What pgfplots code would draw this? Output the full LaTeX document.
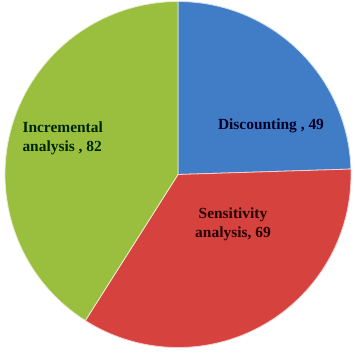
\documentclass[border=0pt]{standalone}
\usepackage{pgfplots}
\pgfplotsset{compat=1.18}
\usepackage{pgfplotstable}
\usepackage{fontspec}
\setmainfont{Liberation Serif}

\definecolor{pieblue}{RGB}{64,125,198}
\definecolor{piered}{RGB}{214,66,62}
\definecolor{piegreen}{RGB}{154,190,62}

\pgfplotstableread{
label value
Discounting 49
Sensitivity 69
Incremental 82
}\piedata

\begin{document}
\begin{tikzpicture}
\pgfplotstablegetelem{0}{value}\of\piedata \edef\va{\pgfplotsretval}
\pgfplotstablegetelem{1}{value}\of\piedata \edef\vb{\pgfplotsretval}
\pgfplotstablegetelem{2}{value}\of\piedata \edef\vc{\pgfplotsretval}
\pgfmathsetmacro\total{\va+\vb+\vc}
\pgfmathsetmacro\aA{90}
\pgfmathsetmacro\aB{\aA-\va/\total*360}
\pgfmathsetmacro\aC{\aB-\vb/\total*360}
\pgfmathsetmacro\aD{\aC-\vc/\total*360}
\begin{axis}[x=1bp,y=1bp,xmin=0,xmax=358,ymin=0,ymax=358,hide axis,clip=false]
\coordinate (BL) at (axis cs:0,0);
\coordinate (TR) at (axis cs:358,358);
\filldraw[fill=pieblue, draw=white!75!pieblue, line width=0.8pt]
  (axis cs:178,183.5) -- ++(\aA:173bp) arc[start angle=\aA, end angle=\aB, radius=173bp] -- cycle;
\filldraw[fill=piered, draw=white!75!piered, line width=0.8pt]
  (axis cs:178,183.5) -- ++(\aB:173bp) arc[start angle=\aB, end angle=\aC, radius=173bp] -- cycle;
\filldraw[fill=piegreen, draw=white!75!piegreen, line width=0.8pt]
  (axis cs:178,183.5) -- ++(\aC:173bp) arc[start angle=\aC, end angle=\aD, radius=173bp] -- cycle;
\node[font=\fontsize{15.5}{19}\selectfont\bfseries, text=black!85!blue] at (axis cs:271,232) {Discounting , 49};
\node[font=\fontsize{15.5}{19}\selectfont\bfseries, align=left, anchor=west, text=black!85!green] at (axis cs:19,220) {Incremental\\analysis , 82};
\node[font=\fontsize{15.5}{19}\selectfont\bfseries, align=center, text=black!85!red] at (axis cs:233,134) {Sensitivity\\analysis, 69};
\end{axis}
\pgfresetboundingbox
\useasboundingbox (BL) rectangle (TR);
\end{tikzpicture}
\end{document}
